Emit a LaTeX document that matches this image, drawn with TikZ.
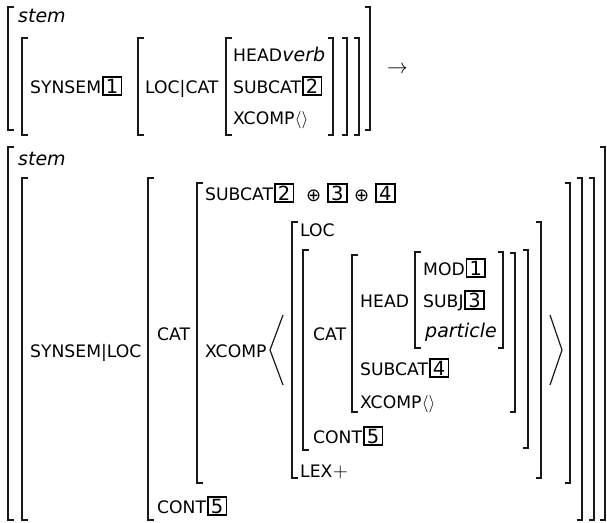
\documentclass[tikz,border=0pt]{standalone}
\usepackage{fontspec}
\setmainfont{DejaVu Sans}
\newcommand\avmL[3]{\draw[brk] (#1,#2) ++(5.5,0) -- ++(-5.5,0) -- (#1,#3) -- ++(5.5,0);}
\newcommand\avmR[3]{\draw[brk] (#1,#2) ++(-5.5,0) -- ++(5.5,0) -- (#1,#3) -- ++(-5.5,0);}
\tikzset{
  brk/.style={line width=1.4pt, black!90},
  ang/.style={line width=1.2pt, black!90},
  sc/.style={font=\fontsize{17.2}{18}\selectfont, inner sep=0pt, anchor=base west},
  itl/.style={font=\fontsize{19}{20}\selectfont\itshape, inner sep=0pt, anchor=base west},
  sym/.style={font=\fontsize{18}{20}\selectfont, inner sep=0pt, anchor=base west},
  tagbox/.style={draw, line width=1.7pt, font=\fontsize{19.5}{20}\selectfont, inner xsep=3.2pt, inner ysep=1.8pt, anchor=base west},
}
\begin{document}
\begin{tikzpicture}[x=1pt,y=-1pt]
\useasboundingbox (0,0) rectangle (607,522);
% ---------- top AVM ----------
\avmL{8}{7}{130}\avmR{370}{7}{130}
\avmL{22}{38}{135}\avmR{359}{38}{135}
\avmL{138}{38}{135}\avmR{347}{38}{135}
\avmL{226}{38}{135}\avmR{333}{38}{135}
\node[itl] (stemA) at (18,22) {stem};
\node[sc] (synsemA) at (30,93) {SYNSEM};
\node[tagbox] (tA1) at ([xshift=0.5pt]synsemA.base east) {1};
\node[sc] (loccatA) at (145,93) {LOC|CAT};
\node[sc] (headA) at (233,61) {HEAD};
\node[itl] (verbA) at (headA.base east) {verb};
\node[sc] (subcatA) at (233,93) {SUBCAT};
\node[tagbox] (tA2) at ([xshift=0.5pt]subcatA.base east) {2};
\node[sc] (xcompA) at (233,124) {XCOMP};
\node[sym] (emptyA) at (xcompA.base east) {$\langle\rangle$};
\node[sym,font=\fontsize{22}{24}\selectfont] (arrow) at (387,73) {$\rightarrow$};
% ---------- bottom AVM ----------
\avmL{8}{147}{520}\avmR{605}{147}{520}
\avmL{22}{178}{520}\avmR{594}{178}{520}
\avmL{148}{178}{520}\avmR{582}{178}{520}
\avmL{197}{183}{483}\avmR{570}{183}{483}
\avmL{292}{222}{478}\avmR{541}{222}{478}
\avmL{303}{250}{450}\avmR{528}{250}{448}
\avmL{352}{255}{412}\avmR{515}{253}{412}
\avmL{415}{252}{348}\avmR{503}{252}{348}
\node[itl] (stemB) at (18,165) {stem};
\node[sc] (synlocB) at (30,357) {SYNSEM|LOC};
\node[sc] (catB) at (157,340) {CAT};
\node[sc] (contB) at (157,513) {CONT};
\node[tagbox] (tB5) at ([xshift=0.5pt]contB.base east) {5};
\node[sc] (subcatB) at (205,200) {SUBCAT};
\node[tagbox] (tB2) at ([xshift=0.5pt]subcatB.base east) {2};
\node[sym] (opA) at (306,201) {⊕};
\node[tagbox] (tB3) at (327,200) {3};
\node[sym] (opB) at (354,201) {⊕};
\node[tagbox] (tB4) at (375,200) {4};
\node[sc] (xcompB) at (205,357) {XCOMP};
\draw[ang] (283,315) -- (270,350) -- (283,385);
\draw[ang] (550,315) -- (562,350) -- (550,385);
\node[sc] (locB) at (300,236) {LOC};
\node[sc] (catC) at (313,340) {CAT};
\node[sc] (contC) at (313,443) {CONT};
\node[tagbox] (tC5) at ([xshift=0.5pt]contC.base east) {5};
\node[sc] (headC) at (360,307) {HEAD};
\node[sc] (modC) at (423,275) {MOD};
\node[tagbox] (tC1) at ([xshift=0.5pt]modC.base east) {1};
\node[sc] (subjC) at (423,307) {SUBJ};
\node[tagbox] (tC3) at ([xshift=0.5pt]subjC.base east) {3};
\node[itl] (partC) at (425,337) {particle};
\node[sc] (subcatC) at (360,375) {SUBCAT};
\node[tagbox] (tC4) at ([xshift=0.5pt]subcatC.base east) {4};
\node[sc] (xcompC) at (360,408) {XCOMP};
\node[sym] (emptyC) at (xcompC.base east) {$\langle\rangle$};
\node[sc] (lexB) at (300,477) {LEX};
\node[sym,font=\fontsize{21}{22}\selectfont] (plusB) at (lexB.base east) {$+$};
\end{tikzpicture}
\end{document}
